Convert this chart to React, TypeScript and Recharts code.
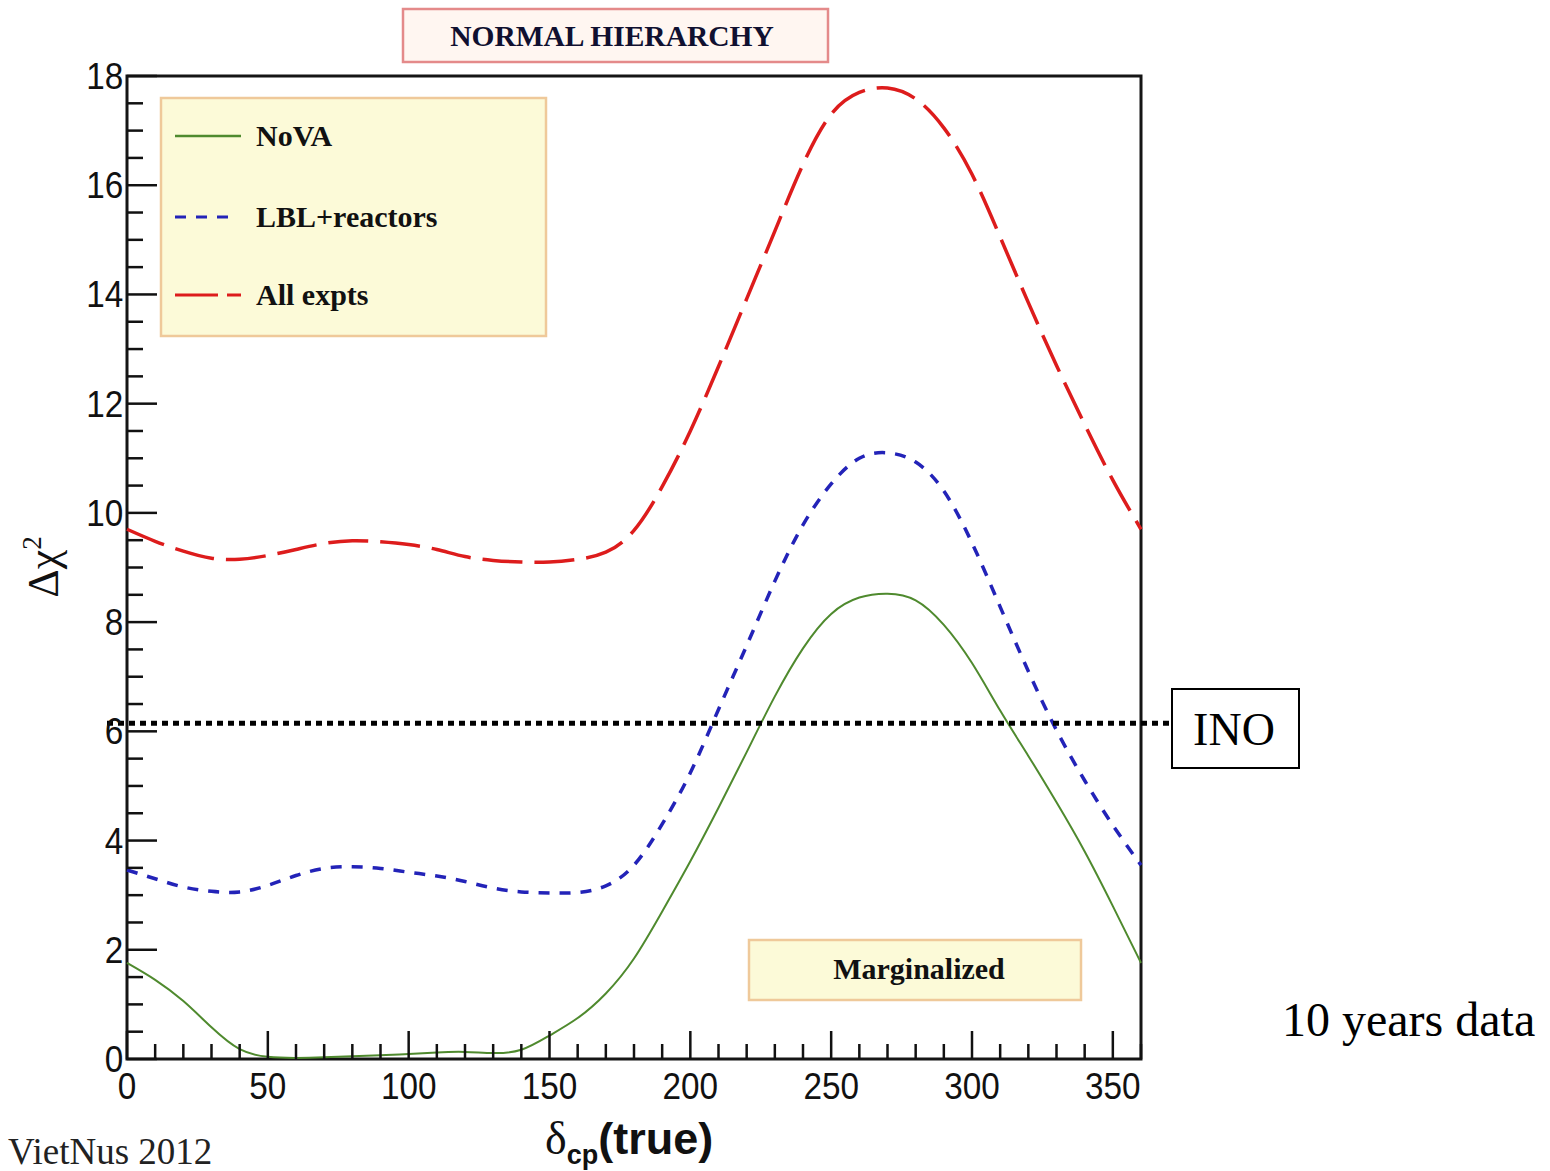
import React from "react";
import {
  ComposedChart,
  Line,
  XAxis,
  YAxis,
  ReferenceArea,
  ReferenceLine,
} from "recharts";

// delta_CP (true) in degrees
const DELTA_CP = [
  0, 10, 20, 30, 40, 50, 60, 70, 80, 90, 100, 110, 120, 130, 140, 150, 160, 170, 180,
  190, 200, 210, 220, 230, 240, 250, 260, 270, 280, 290, 300, 310, 320, 330, 340, 350, 360,
];

// Delta chi^2 for each experiment combination
const NOVA = [
  1.76, 1.45, 1.06, 0.58, 0.18, 0.04, 0.02, 0.03, 0.05, 0.07, 0.09, 0.12, 0.13, 0.11, 0.17,
  0.43, 0.75, 1.2, 1.84, 2.7, 3.62, 4.6, 5.62, 6.64, 7.52, 8.15, 8.45, 8.52, 8.4, 7.95,
  7.25, 6.38, 5.55, 4.7, 3.8, 2.8, 1.76,
];
const LBL_REACTORS = [
  3.46, 3.3, 3.15, 3.07, 3.06, 3.18, 3.36, 3.49, 3.52, 3.49, 3.42, 3.35, 3.25, 3.13, 3.06,
  3.04, 3.05, 3.17, 3.55, 4.3, 5.24, 6.4, 7.57, 8.75, 9.78, 10.53, 11.0, 11.1, 10.93, 10.4,
  9.45, 8.28, 7.1, 6.02, 5.1, 4.28, 3.55,
];
const ALL_EXPTS = [
  9.7, 9.48, 9.3, 9.17, 9.15, 9.22, 9.33, 9.44, 9.49, 9.47, 9.42, 9.33, 9.2, 9.13, 9.1, 9.1,
  9.15, 9.28, 9.68, 10.48, 11.5, 12.68, 13.92, 15.16, 16.38, 17.3, 17.7, 17.78, 17.58, 17.05,
  16.2, 15.05, 13.85, 12.7, 11.62, 10.6, 9.7,
];

// INO sensitivity level
const INO_LEVEL = 6.15;

const X_TICKS = Array.from({ length: 37 }, (_, i) => i * 10);
const Y_TICKS = Array.from({ length: 37 }, (_, i) => i * 0.5);

const data = DELTA_CP.map((d, i) => ({
  d,
  nova: NOVA[i],
  lbl: LBL_REACTORS[i],
  all: ALL_EXPTS[i],
}));

const GREEN = "#4f8a2e";
const BLUE = "#2323b8";
const RED = "#dd1c1c";
const SANS = "'Liberation Sans', Arial, Helvetica, sans-serif";
const SERIF = "'Liberation Serif', 'Times New Roman', serif";

const XTick = (props: any) => {
  const { x, y, payload } = props;
  const v = payload.value as number;
  const major = v % 50 === 0;
  return (
    <g>
      <line x1={x} x2={x} y1={y} y2={y - (major ? 28 : 15)} stroke="#111" strokeWidth={2.5} />
      {major && (
        <text x={x} y={y + 40} textAnchor="middle" fontFamily={SANS} fontSize={37} fill="#111"
          transform={`translate(${x},0) scale(0.9,1) translate(${-x},0)`}>
          {v}
        </text>
      )}
    </g>
  );
};

const YTick = (props: any) => {
  const { x, y, payload } = props;
  const v = payload.value as number;
  const major = Math.abs(v % 2) < 1e-9;
  return (
    <g>
      <line x1={x} x2={x + (major ? 30 : 16)} y1={y} y2={y} stroke="#111" strokeWidth={2.5} />
      {major && (
        <text x={x - 4} y={y + 13} textAnchor="end" fontFamily={SANS} fontSize={37} fill="#111"
          transform={`translate(${x},0) scale(0.9,1) translate(${-x},0)`}>
          {v}
        </text>
      )}
    </g>
  );
};

const InoLine = (p: any) => (
  <line
    x1={p.x1 - 20}
    x2={p.x2 + 40}
    y1={p.y1}
    y2={p.y2}
    stroke="#000"
    strokeWidth={5}
    strokeDasharray="6 5"
  />
);

export default function App() {
  return (
    <div style={{ position: "absolute", left: 0, top: 0, width: 1550, height: 1171, background: "#fff" }}>
      <ComposedChart
        width={1550}
        height={1171}
        data={data}
        margin={{ top: 76, right: 409, bottom: 72, left: 87 }}
      >
        <XAxis
          dataKey="d"
          type="number"
          domain={[0, 360]}
          ticks={X_TICKS}
          interval={0}
          tickSize={0}
          tickMargin={0}
          axisLine={false}
          tickLine={false}
          height={40}
          tick={<XTick />}
        />
        <YAxis
          type="number"
          domain={[0, 18]}
          ticks={Y_TICKS}
          interval={0}
          tickSize={0}
          tickMargin={0}
          axisLine={false}
          tickLine={false}
          width={40}
          tick={<YTick />}
        />
        <ReferenceArea x1={0} x2={360} y1={0} y2={18} fill="none" stroke="#151515" strokeWidth={3} />
        <Line type="natural" dataKey="nova" stroke={GREEN} strokeWidth={2} dot={false} isAnimationActive={false} />
        <Line type="natural" dataKey="lbl" stroke={BLUE} strokeWidth={3.5} strokeDasharray="11 10" dot={false} isAnimationActive={false} />
        <Line type="natural" dataKey="all" stroke={RED} strokeWidth={3.5} strokeDasharray="40 12" dot={false} isAnimationActive={false} />
        <ReferenceLine y={INO_LEVEL} shape={InoLine} />
      </ComposedChart>

      <svg width={1550} height={1171} style={{ position: "absolute", left: 0, top: 0, pointerEvents: "none" }}>
        {/* title box */}
        <rect x={403} y={9} width={425} height={53} fill="#fff6f1" stroke="#e48a8a" strokeWidth={2.5} />
        <text x={612} y={46} textAnchor="middle" fontFamily={SERIF} fontWeight="bold" fontSize={29.5} fill="#101030">
          NORMAL HIERARCHY
        </text>

        {/* legend */}
        <rect x={161} y={98} width={385} height={238} fill="#fcfad8" stroke="#efc99a" strokeWidth={2.5} />
        <line x1={175} x2={241} y1={136} y2={136} stroke={GREEN} strokeWidth={2.5} />
        <text x={256} y={146} fontFamily={SERIF} fontWeight="bold" fontSize={30} fill="#111">NoVA</text>
        <line x1={175} x2={235} y1={217} y2={217} stroke={BLUE} strokeWidth={3} strokeDasharray="11 10" />
        <text x={256} y={227} fontFamily={SERIF} fontWeight="bold" fontSize={30} fill="#111">LBL+reactors</text>
        <line x1={175} x2={241} y1={295} y2={295} stroke={RED} strokeWidth={3} strokeDasharray="43 9" />
        <text x={256} y={305} fontFamily={SERIF} fontWeight="bold" fontSize={30} fill="#111">All expts</text>

        {/* marginalized box */}
        <rect x={749} y={940} width={332} height={60} fill="#fcfad8" stroke="#efc99a" strokeWidth={2.5} />
        <text x={919} y={979} textAnchor="middle" fontFamily={SERIF} fontWeight="bold" fontSize={30} fill="#111">
          Marginalized
        </text>

        {/* INO label */}
        <rect x={1172} y={689} width={127} height={79} fill="#fff" stroke="#000" strokeWidth={2} />
        <text x={1234} y={745} textAnchor="middle" fontFamily={SERIF} fontSize={46} fill="#000">INO</text>

        {/* axis titles */}
        <text transform="translate(58,567) rotate(-90)" textAnchor="middle" fontFamily={SERIF} fontSize={44} fill="#111">
          Δχ<tspan dy={-17} fontSize={27}>2</tspan>
        </text>
        <text x={545} y={1154} fontFamily={SERIF} fontSize={46} fill="#111">
          δ<tspan dy={10} fontFamily={SANS} fontWeight="bold" fontSize={27}>cp</tspan>
          <tspan dy={-10} fontFamily={SANS} fontWeight="bold" fontSize={45}>(true)</tspan>
        </text>

        {/* notes */}
        <text x={1282} y={1036} fontFamily={SERIF} fontSize={48} fill="#000">10 years data</text>
        <text x={8} y={1164} fontFamily={SERIF} fontSize={37} fill="#222">VietNus 2012</text>
      </svg>
    </div>
  );
}
